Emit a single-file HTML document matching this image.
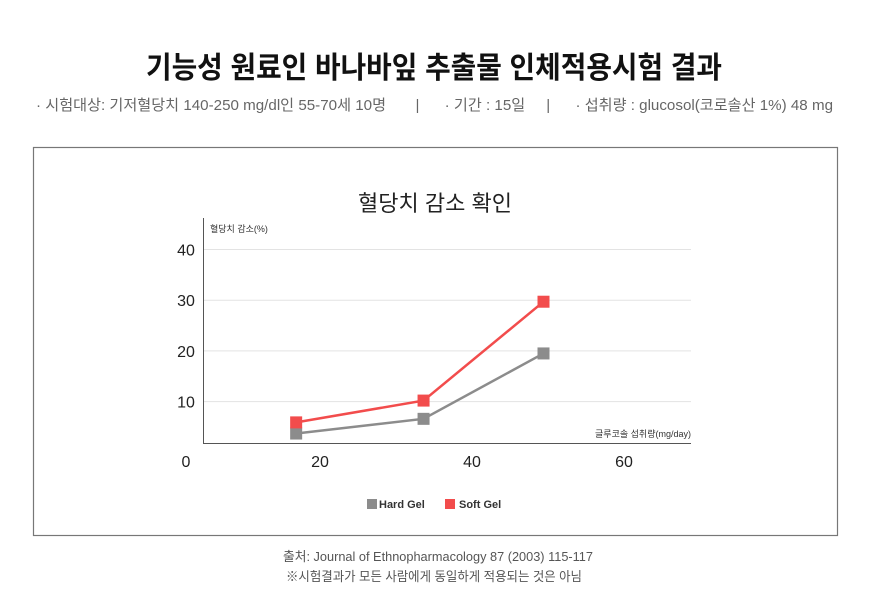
<!DOCTYPE html>
<html><head><meta charset="utf-8"><style>
html,body{margin:0;padding:0;background:#fff;}
svg{display:block;font-family:"Liberation Sans","Noto Sans CJK KR",sans-serif;}
</style></head><body>
<svg id="root" width="877" height="604" viewBox="0 0 877 604">
<text x="434" y="78" text-anchor="middle" font-size="30" font-weight="bold" fill="#111" textLength="576" lengthAdjust="spacingAndGlyphs">기능성 원료인 바나바잎 추출물 인체적용시험 결과</text>
<text x="36" y="110" font-size="15" fill="#666" textLength="797" lengthAdjust="spacingAndGlyphs">· 시험대상: 기저혈당치 140-250 mg/dl인 55-70세 10명 &#160;&#160;&#160;&#160;&#160;&#160;| &#160;&#160;&#160;&#160;&#160;· 기간 : 15일 &#160;&#160;&#160;&#160;| &#160;&#160;&#160;&#160;&#160;· 섭취량 : glucosol(코로솔산 1%) 48 mg</text>
<rect x="33.5" y="147.5" width="804" height="388" fill="#fff" stroke="#777" stroke-width="1.2"/>
<text x="435" y="211" text-anchor="middle" font-size="22" fill="#222">혈당치 감소 확인</text>
<text x="210" y="232" font-size="9" fill="#333">혈당치 감소(%)</text>
<text x="691" y="437" text-anchor="end" font-size="9" fill="#333">글루코솔 섭취량(mg/day)</text>
<g id="grid"></g>
<line x1="203.5" y1="218" x2="203.5" y2="443" stroke="#555" stroke-width="1"/>
<line x1="203" y1="443.5" x2="691" y2="443.5" stroke="#555" stroke-width="1"/>
<g id="series"></g>
<rect x="367" y="499" width="10" height="10" fill="#8c8c8c"/>
<text x="379" y="508" font-size="11" font-weight="bold" fill="#333">Hard Gel</text>
<rect x="445" y="499" width="10" height="10" fill="#f24c4c"/>
<text x="459" y="508" font-size="11" font-weight="bold" fill="#333">Soft Gel</text>
<text x="438" y="561" text-anchor="middle" font-size="13" fill="#555" textLength="310" lengthAdjust="spacingAndGlyphs">출처: Journal of Ethnopharmacology 87 (2003) 115-117</text>
<text x="434" y="581" text-anchor="middle" font-size="13" fill="#555" textLength="296" lengthAdjust="spacingAndGlyphs">※시험결과가 모든 사람에게 동일하게 적용되는 것은 아님</text>
</svg>
<script>
const xTicks = [0, 20, 40, 60];
const yTicks = [10, 20, 30, 40];
const doses = [16.8, 33.9, 50];
const hardGel = [3.7, 6.6, 19.5];
const softGel = [5.9, 10.2, 29.7];
const NS = "http://www.w3.org/2000/svg";
function xPos(v){ return v === 0 ? 186 : 320 + (v - 20) * 7.6; }
function xData(v){ return 320 + (v - 20) * 7.45; }
function yPos(v){ return 452.3 - v * 5.07; }
const grid = document.getElementById('grid');
yTicks.forEach(t => {
  const l = document.createElementNS(NS, 'line');
  l.setAttribute('x1', 204); l.setAttribute('x2', 691);
  l.setAttribute('y1', yPos(t)); l.setAttribute('y2', yPos(t));
  l.setAttribute('stroke', '#e3e3e3'); l.setAttribute('stroke-width', 1);
  
  
  grid.appendChild(l);
  const tx = document.createElementNS(NS, 'text');
  tx.setAttribute('x', 186); tx.setAttribute('y', yPos(t) + 6);
  tx.setAttribute('text-anchor', 'middle'); tx.setAttribute('font-size', '16'); tx.setAttribute('fill', '#222');
  tx.textContent = t;
  
  
  grid.appendChild(tx);
});
xTicks.forEach(t => {
  const tx = document.createElementNS(NS, 'text');
  tx.setAttribute('x', xPos(t)); tx.setAttribute('y', 467);
  tx.setAttribute('text-anchor', 'middle'); tx.setAttribute('font-size', '16'); tx.setAttribute('fill', '#222');
  tx.textContent = t;
  
  
  grid.appendChild(tx);
});
const seriesG = document.getElementById('series');
function drawSeries(vals, color, name){
  const pl = document.createElementNS(NS, 'polyline');
  pl.setAttribute('points', vals.map((v,i) => xData(doses[i]) + ',' + yPos(v)).join(' '));
  pl.setAttribute('fill', 'none'); pl.setAttribute('stroke', color); pl.setAttribute('stroke-width', 2.5);
  
  
  seriesG.appendChild(pl);
  vals.forEach((v,i) => {
    const r = document.createElementNS(NS, 'rect');
    r.setAttribute('x', xData(doses[i]) - 6); r.setAttribute('y', yPos(v) - 6);
    r.setAttribute('width', 12); r.setAttribute('height', 12); r.setAttribute('fill', color);
    
    
    seriesG.appendChild(r);
  });
}
drawSeries(hardGel, '#8c8c8c', 'hard-gel');
drawSeries(softGel, '#f24c4c', 'soft-gel');
</script>
</body></html>
